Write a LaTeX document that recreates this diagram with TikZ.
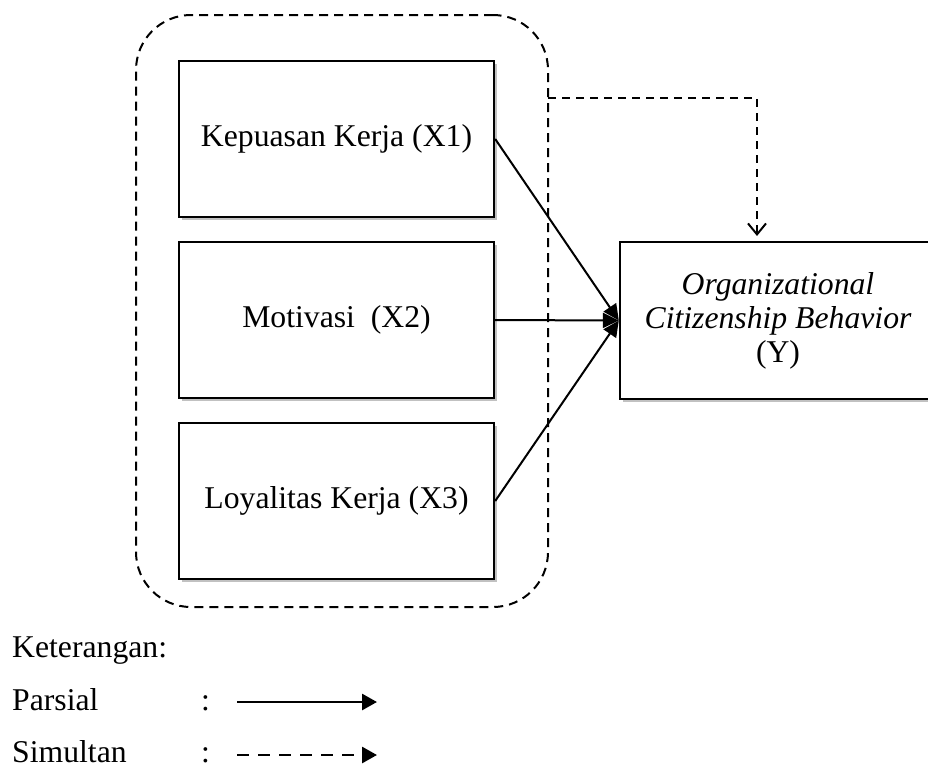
\documentclass[tikz,border=0pt]{standalone}
\usepackage{fontspec}
\setmainfont{Liberation Serif}
\usetikzlibrary{arrows.meta,shadows}
\begin{document}
\begin{tikzpicture}[x=1pt,y=-1pt,
  every node/.style={font=\fontsize{31.7}{34}\selectfont},
  varbox/.style={draw=black,line width=2.4pt,fill=white,inner sep=0pt,align=center,
    drop shadow={shadow xshift=2.5pt,shadow yshift=-3pt,opacity=0.4,fill=black!60}},
  grpbox/.style={draw=black,line width=2pt,dash pattern=on 9pt off 6pt,rounded corners=55pt,inner sep=0pt},
  partial/.style={draw=black,line width=2pt,-{Triangle[length=16pt,width=15pt]}},
  simul/.style={draw=black,line width=2.2pt,dash pattern=on 8pt off 6pt,-{Straight Barb[length=11pt,width=18pt,line width=2pt]}},
  legpart/.style={draw=black,line width=2.8pt,-{Triangle[length=15pt,width=16pt]}},
  legsim/.style={draw=black,line width=2.8pt,dash pattern=on 12pt off 9pt,-{Triangle[length=15pt,width=16pt]}},
  legtxt/.style={anchor=base west,inner sep=0pt}]
\useasboundingbox[fill=white] (0,0) rectangle (928,769);
\begin{scope}
\clip (0,0) rectangle (928,769);
\node[grpbox,minimum width=412pt,minimum height=592pt] (grp) at (342,311) {};
\node[varbox,minimum width=315pt,minimum height=156pt] (x1) at (336.5,139) {Kepuasan Kerja (X1)};
\node[varbox,minimum width=315pt,minimum height=156pt] (x2) at (336.5,320) {Motivasi~ (X2)};
\node[varbox,minimum width=315pt,minimum height=156pt] (x3) at (336.5,501) {Loyalitas Kerja (X3)};
\node[varbox,minimum width=316pt,minimum height=157pt] (y) at (778,320.5) {\itshape Organizational\\ \itshape Citizenship Behavior\\ (Y)};
\end{scope}
\draw[partial] (x1.east) -- (y.west);
\draw[partial] (x2.east) -- (y.west);
\draw[partial] (x3.east) -- (y.west);
\coordinate (s) at (548,98);
\coordinate (e) at (757,236);
\draw[simul] (s) -| (e);
% legend
\node[legtxt] (ket) at (12,657) {Keterangan:};
\node[legtxt] (par) at (12,710) {Parsial};
\node[legtxt] (sim) at (12,762) {Simultan};
\node[legtxt] (c1) at (201,710) {:};
\node[legtxt] (c2) at (201,762) {:};
\coordinate (p1) at (237,702);
\coordinate (p2) at (377,702);
\coordinate (q1) at (237,755);
\coordinate (q2) at (377,755);
\draw[legpart] (p1) -- (p2);
\draw[legsim] (q1) -- (q2);
\end{tikzpicture}
\end{document}
